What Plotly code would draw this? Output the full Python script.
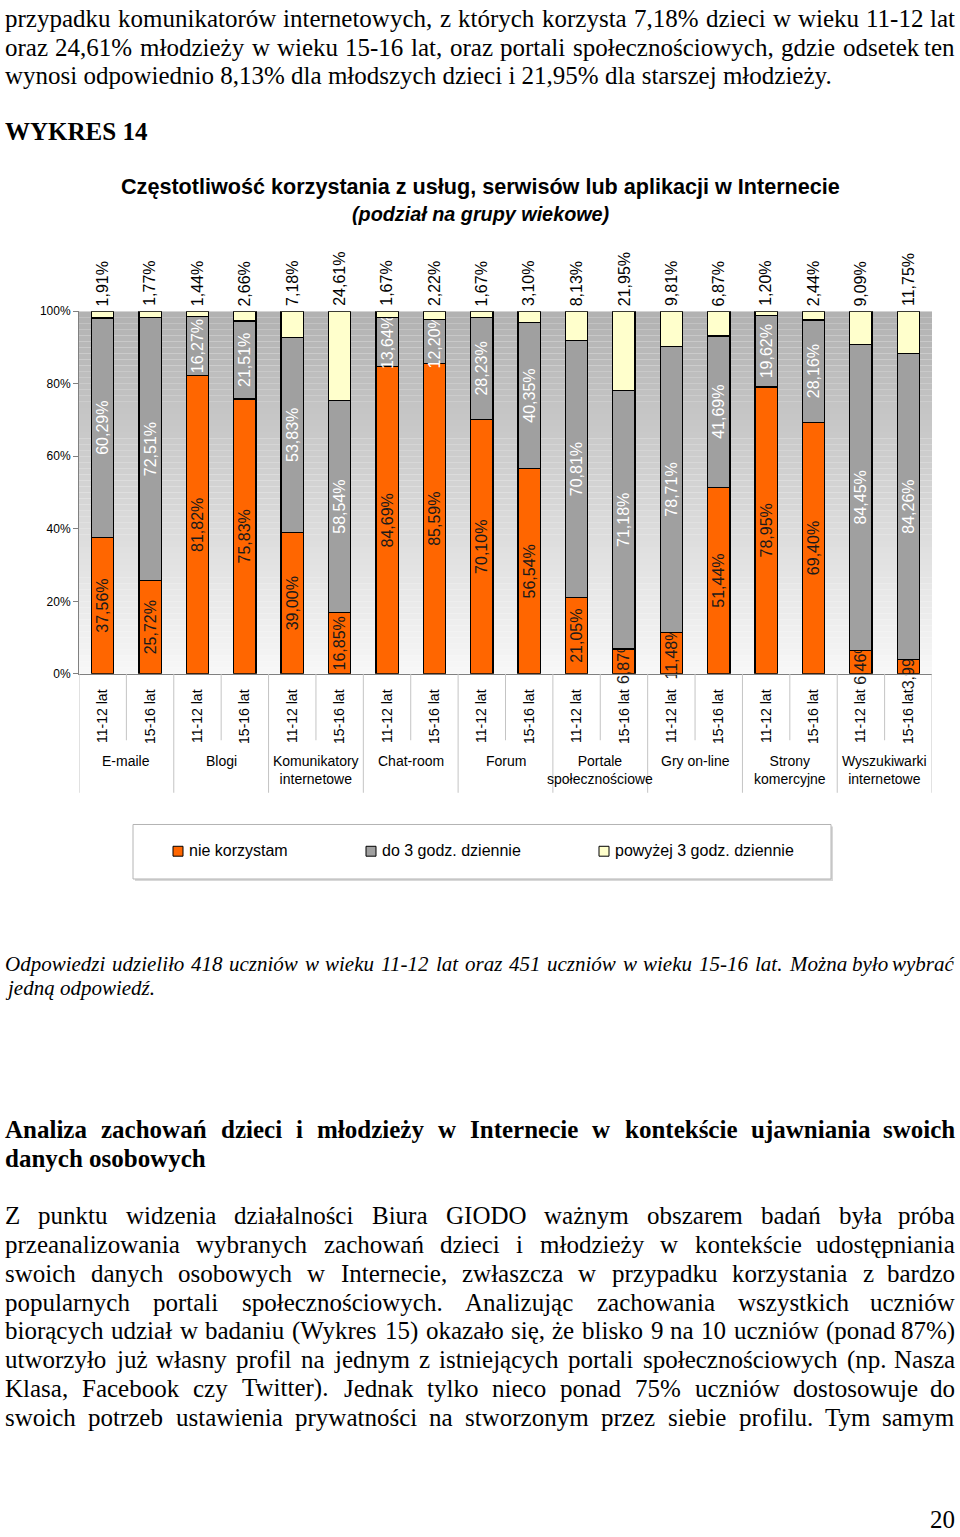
import unicodedata
import plotly.graph_objects as go

W, H = 960, 1537
SANS = "Liberation Sans, Arial, sans-serif"
SERIF = "Liberation Serif, Times New Roman, serif"

# --- chart data -------------------------------------------------------------
groups = ["E-maile", "Blogi", "Komunikatory<br>internetowe", "Chat-room", "Forum",
          "Portale<br>społecznościowe", "Gry on-line", "Strony<br>komercyjne",
          "Wyszukiwarki<br>internetowe"]
ages = ["11-12 lat", "15-16 lat"]

nie_korzystam = [37.56, 25.72, 81.82, 75.83, 39.00, 16.85, 84.69, 85.59, 70.10,
                 56.54, 21.05, 6.87, 11.48, 51.44, 78.95, 69.40, 6.46, 3.99]
do_3_godz = [60.29, 72.51, 16.27, 21.51, 53.83, 58.54, 13.64, 12.20, 28.23,
             40.35, 70.81, 71.18, 78.71, 41.69, 19.62, 28.16, 84.45, 84.26]
powyzej_3_godz = [1.91, 1.77, 1.44, 2.66, 7.18, 24.61, 1.67, 2.22, 1.67,
                  3.10, 8.13, 21.95, 9.81, 6.87, 1.20, 2.44, 9.09, 11.75]

y_ticks = [0, 20, 40, 60, 80, 100]

series_names = ["nie korzystam", "do 3 godz. dziennie", "powyżej 3 godz. dziennie"]
series_colors = ["#FF6600", "#A0A0A0", "#FFFFCC"]

# --- page text --------------------------------------------------------------
text_top = [
    "przypadku komunikatorów internetowych, z których korzysta 7,18% dzieci w wieku 11-12 lat",
    "oraz 24,61% młodzieży w wieku 15-16 lat, oraz portali społecznościowych, gdzie odsetek ten",
    "wynosi odpowiednio 8,13% dla młodszych dzieci i 21,95% dla starszej młodzieży.",
]
chart_label = "WYKRES 14"
chart_title = "Częstotliwość korzystania z usług, serwisów lub aplikacji w Internecie"
chart_subtitle = "(podział na grupy wiekowe)"
note_lines = [
    "Odpowiedzi udzieliło 418 uczniów w wieku 11-12 lat oraz 451 uczniów w wieku 15-16 lat. Można było wybrać",
    "jedną odpowiedź.",
]
heading_lines = [
    "Analiza zachowań dzieci i młodzieży w Internecie w kontekście ujawniania swoich",
    "danych osobowych",
]
body_lines = [
    "Z punktu widzenia działalności Biura GIODO ważnym obszarem badań była próba",
    "przeanalizowania wybranych zachowań dzieci i młodzieży w kontekście udostępniania",
    "swoich danych osobowych w Internecie, zwłaszcza w przypadku korzystania z bardzo",
    "popularnych portali społecznościowych. Analizując zachowania wszystkich uczniów",
    "biorących udział w badaniu (Wykres 15) okazało się, że blisko 9 na 10 uczniów (ponad 87%)",
    "utworzyło już własny profil na jednym z istniejących portali społecznościowych (np. Nasza",
    "Klasa, Facebook czy Twitter). Jednak tylko nieco ponad 75% uczniów dostosowuje do",
    "swoich potrzeb ustawienia prywatności na stworzonym przez siebie profilu. Tym samym",
]
page_number = "20"

# rough Times metrics, used only to justify lines like the printed page
LOW = "abcdefghijklmnopqrstuvwxyz"
UP = LOW.upper()
METRICS = {
    "r": (LOW, [444, 500, 444, 500, 444, 333, 500, 500, 278, 278, 500, 278, 778, 500, 500, 500, 500, 333, 389, 278, 500, 500, 722, 500, 500, 444],
          UP, [722, 667, 667, 722, 611, 556, 722, 722, 333, 389, 722, 611, 889, 722, 722, 556, 722, 667, 556, 611, 722, 722, 944, 722, 722, 611], 833),
    "b": (LOW, [500, 556, 444, 556, 444, 333, 500, 556, 278, 333, 556, 278, 833, 556, 500, 556, 556, 444, 389, 333, 556, 500, 722, 500, 500, 444],
          UP, [722, 667, 722, 722, 667, 611, 778, 778, 389, 500, 778, 667, 944, 722, 778, 611, 778, 722, 556, 667, 722, 722, 1000, 722, 722, 667], 1000),
    "i": (LOW, [500, 500, 444, 500, 444, 278, 500, 500, 278, 278, 444, 278, 722, 500, 500, 500, 500, 389, 389, 278, 500, 444, 667, 444, 444, 389],
          UP, [611, 611, 667, 722, 611, 611, 722, 722, 333, 444, 667, 556, 833, 667, 722, 611, 722, 611, 500, 556, 722, 611, 833, 611, 556, 556], 833),
}
TABLES = {}
for k, (lo, lw, up, uw, pct_w) in METRICS.items():
    t = dict(zip(lo, lw))
    t.update(zip(up, uw))
    t.update({" ": 250, ",": 250, ".": 250, "-": 333, "(": 333, ")": 333, ":": 278, "%": pct_w})
    t.update({d: 500 for d in "0123456789"})
    TABLES[k] = t


def text_width(s, size, style):
    table = TABLES[style]
    total = 0
    for ch in s:
        if ch not in table:
            ch = {"ł": "l", "Ł": "L"}.get(ch, unicodedata.normalize("NFD", ch)[0])
        total += table.get(ch, 500)
    return total * size / 1000


def px(x):
    return x / W


def py(y):
    return 1 - y / H


annotations = []


def wrap(s, style):
    if style == "b":
        return "<b>%s</b>" % s
    if style == "i":
        return "<i>%s</i>" % s
    return s


def add_line(text, y, size, style="r", justify=True, x0=4, x1=956):
    font = dict(family=SERIF, size=size, color="black")
    if not justify:
        annotations.append(dict(text=wrap(text, style), x=px(x0), y=py(y), xref="paper", yref="paper",
                                xanchor="left", yanchor="middle", showarrow=False, borderpad=0, font=font))
        return
    words = text.split()
    widths = [text_width(w, size, style) for w in words]
    gap = (x1 - x0 - sum(widths)) / (len(words) - 1)
    x = x0
    for i, w in enumerate(words):
        last = i == len(words) - 1
        annotations.append(dict(text=wrap(w, style), x=px(x1 if last else x), y=py(y),
                                xref="paper", yref="paper", xanchor="right" if last else "left",
                                yanchor="middle", showarrow=False, borderpad=0, font=font))
        x += widths[i] + gap


def pct(v):
    return ("%.2f" % v).replace(".", ",") + "%"


# --- figure -----------------------------------------------------------------
xs = list(range(len(nie_korzystam)))
fig = go.Figure()

series_values = [nie_korzystam, do_3_godz, powyzej_3_godz]
text_colors = ["#1a1a1a", "white", "black"]
for k, (name, vals, color, tcol) in enumerate(zip(series_names, series_values, series_colors, text_colors)):
    top = k == len(series_values) - 1
    fig.add_trace(go.Bar(
        x=xs, y=vals, name=name,
        marker=dict(color=color, line=dict(color="black", width=1.3)),
        text=None if top else [pct(v) for v in vals],
        textposition="none" if top else "inside", textangle=-90, insidetextanchor="middle",
        constraintext="none", cliponaxis=False,
        textfont=dict(family=SANS, size=16, color=tcol),
        showlegend=False, hoverinfo="skip",
    ))

# labels of the top segment sit above the 100% line
for x, v in zip(xs, powyzej_3_godz):
    annotations.append(dict(text=pct(v), x=x, y=100, xref="x", yref="y", textangle=-90,
                            xanchor="center", yanchor="bottom", yshift=3, showarrow=False,
                            font=dict(family=SANS, size=16, color="black")))

# plot area: x 79..932 px, y 307..673 px
x_left, x_right, y_top, y_bottom = 79, 932, 307, 673

shapes = []
# vertical grey gradient behind the bars
n_bands = 60
for i in range(n_bands):
    g = int(round(247 - (247 - 178) * i / (n_bands - 1)))
    shapes.append(dict(type="rect", xref="paper", yref="y",
                       x0=px(x_left), x1=px(x_right),
                       y0=100 * i / n_bands, y1=100 * (i + 1) / n_bands,
                       fillcolor="rgb(%d,%d,%d)" % (g, g, g), line=dict(width=0), layer="below"))

# category table lines under the axis
for b in range(len(xs) + 1):
    long_line = b % 2 == 0
    shapes.append(dict(type="line", xref="x", yref="paper", x0=b - 0.5, x1=b - 0.5,
                       y0=py(y_bottom), y1=py(793 if long_line else 740),
                       line=dict(color="#c4c4c4", width=1)))

# group names
for g, name in enumerate(groups):
    annotations.append(dict(text=name, x=2 * g + 0.5, y=py(751), xref="x", yref="paper",
                            xanchor="center", yanchor="top", showarrow=False,
                            font=dict(family=SANS, size=14, color="black")))

# legend box
shapes.append(dict(type="rect", xref="paper", yref="paper", x0=px(135), x1=px(833),
                   y0=py(882), y1=py(827), fillcolor="#d8d8d8", line=dict(width=0)))
shapes.append(dict(type="rect", xref="paper", yref="paper", x0=px(133), x1=px(831),
                   y0=py(880), y1=py(825), fillcolor="white", line=dict(color="#b4b4b4", width=1)))
legend_x = [173, 366, 599]
for lx, name, color in zip(legend_x, series_names, series_colors):
    shapes.append(dict(type="rect", xref="paper", yref="paper", x0=px(lx), x1=px(lx + 10),
                       y0=py(857), y1=py(847), fillcolor=color, line=dict(color="black", width=1)))
    annotations.append(dict(text=name, x=px(lx + 14), y=py(851), xref="paper", yref="paper",
                            xanchor="left", yanchor="middle", showarrow=False,
                            font=dict(family=SANS, size=16, color="black")))

# page text
for i, line in enumerate(text_top):
    add_line(line, 12 + 28.6 * i, 25, "r", justify=i < 2)
add_line(chart_label, 126, 25, "b", justify=False)
annotations.append(dict(text="<b>%s</b>" % chart_title, x=px(480), y=py(181), xref="paper", yref="paper",
                        xanchor="center", yanchor="middle", showarrow=False,
                        font=dict(family=SANS, size=21.6, color="black")))
annotations.append(dict(text="<b><i>%s</i></b>" % chart_subtitle, x=px(480), y=py(209), xref="paper",
                        yref="paper", xanchor="center", yanchor="middle", showarrow=False,
                        font=dict(family=SANS, size=19.8, color="black")))
add_line(note_lines[0], 966, 21, "i")
add_line(note_lines[1], 990, 21, "i", justify=False)
add_line(heading_lines[0], 1133, 25, "b")
add_line(heading_lines[1], 1162, 25, "b", justify=False)
for i, line in enumerate(body_lines):
    add_line(line, 1220 + 29 * i, 25, "r")
annotations.append(dict(text=page_number, x=px(956), y=py(1526), xref="paper", yref="paper",
                        xanchor="right", yanchor="middle", showarrow=False, borderpad=0,
                        font=dict(family=SERIF, size=25, color="black")))

fig.update_layout(
    width=W, height=H, autosize=False,
    margin=dict(l=0, r=0, t=0, b=0),
    paper_bgcolor="white", plot_bgcolor="white",
    barmode="stack", barnorm="percent", bargap=0.53,
    xaxis=dict(domain=[px(x_left), px(x_right)], range=[-0.5, len(xs) - 0.5],
               tickvals=xs, ticktext=[ages[i % 2] for i in xs], tickangle=-90,
               tickfont=dict(family=SANS, size=14, color="black"),
               ticks="outside", ticklen=9, tickcolor="rgba(0,0,0,0)",
               showline=True, linecolor="#808080", linewidth=1, showgrid=False, zeroline=False,
               fixedrange=True),
    yaxis=dict(domain=[py(y_bottom), py(y_top)], range=[0, 100],
               tickvals=y_ticks, ticktext=["%d%%" % t for t in y_ticks],
               tickfont=dict(family=SANS, size=12, color="black"),
               ticks="outside", ticklen=5, tickcolor="#808080",
               showline=True, linecolor="#808080", linewidth=1, showgrid=False, zeroline=False,
               fixedrange=True),
    shapes=shapes,
    annotations=annotations,
    showlegend=False,
)

# the page body has a default 8px margin; drop it so the figure starts at the corner
fig.write_html("out.html", config={"displayModeBar": False},
               post_script="document.body.style.margin='0';")
